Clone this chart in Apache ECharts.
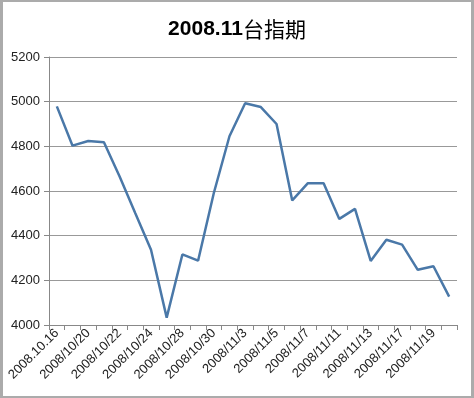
<!DOCTYPE html>
<html><head><meta charset="utf-8">
<script src="https://cdn.jsdelivr.net/npm/echarts@6/dist/echarts.min.js"></script>
<style>
html,body{margin:0;padding:0;background:#fff;}
#c{width:474px;height:398px;box-sizing:border-box;border-style:solid;border-color:#ababab;border-width:2px 3px 2px 3px;}
</style></head>
<body><div id="c"></div>
<script>
const titleNum = "2008.11";
const titleCjk = "台指期";
const categories = ["2008.10.16","2008/10/17","2008/10/20","2008/10/21","2008/10/22","2008/10/23","2008/10/24","2008/10/27","2008/10/28","2008/10/29","2008/10/30","2008/10/31","2008/11/3","2008/11/4","2008/11/5","2008/11/6","2008/11/7","2008/11/10","2008/11/11","2008/11/12","2008/11/13","2008/11/14","2008/11/17","2008/11/18","2008/11/19","2008/11/20"];
const values = [4979,4803,4824,4818,4665,4500,4337,4033,4316,4288,4590,4845,4993,4976,4900,4558,4635,4635,4475,4520,4287,4382,4360,4247,4263,4127];
const yMin = 4000, yMax = 5200, yStep = 200;

const chart = echarts.init(document.getElementById('c'), null, {renderer:'canvas'});
chart.setOption({
  animation:false,
  title:{text:'{a|'+titleNum+'}{b|'+titleCjk+'}',left:'center',top:12,
    textStyle:{rich:{
      a:{fontSize:21,fontWeight:'bold',color:'#000',fontFamily:'"Liberation Sans", sans-serif'},
      b:{fontSize:21,fontWeight:'normal',color:'#000',fontFamily:'"Noto Sans CJK TC", sans-serif'}
    }}},
  grid:{left:46,right:14,top:55,bottom:71,containLabel:false},
  xAxis:{type:'category',data:categories,boundaryGap:true,
    axisLine:{lineStyle:{color:'#888',width:1}},
    axisTick:{show:true,alignWithLabel:false,interval:0,length:5,lineStyle:{color:'#888'}},
    axisLabel:{interval:1,rotate:45,fontSize:13,color:'#222',margin:6,fontFamily:'"Liberation Sans", sans-serif'},
    splitLine:{show:false}},
  yAxis:{type:'value',min:yMin,max:yMax,interval:yStep,
    axisLine:{show:true,lineStyle:{color:'#888'}},
    axisTick:{show:true,length:5,lineStyle:{color:'#888'}},
    axisLabel:{fontSize:13,color:'#222',margin:9,formatter:v=>String(v),fontFamily:'"Liberation Sans", sans-serif'},
    splitLine:{show:true,lineStyle:{color:'#999',width:1}}},
  series:[{type:'line',data:values,symbol:'none',lineStyle:{color:'#4a78a8',width:2.5}}]
});
</script></body></html>
